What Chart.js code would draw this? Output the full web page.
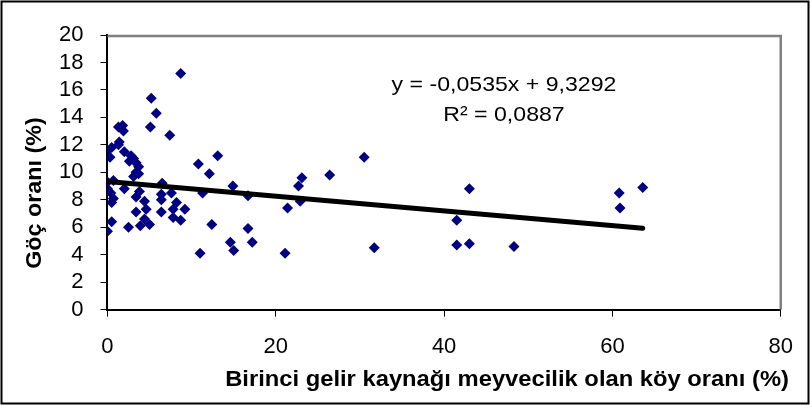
<!DOCTYPE html>
<html>
<head>
<meta charset="utf-8">
<script src="https://cdn.jsdelivr.net/npm/chart.js@4/dist/chart.umd.min.js"></script>
<style>
  html, body { margin: 0; padding: 0; background: #fff; }
  #wrap { width: 810px; height: 405px; position: relative; }
</style>
</head>
<body>
<div id="wrap"><canvas id="chart" width="810" height="405"></canvas></div>
<script>
// scatter: fruit-growing village share (x) vs migration rate (y)
const xVals = [
  8.7, 5.2, 5.8, 1.3, 1.8, 1.9, 5.1, 7.4, 1.4, 1.3,
  0.0, 0.5, 0.3, 2.0, 2.8, 3.1, 2.6, 3.4, 3.7, 3.4,
  3.7, 3.1, 0.0, 0.7, 0.0, 0.4, 0.7, 0.5, 2.0, 3.4,
  3.8, 3.4, 3.9, 2.5, 0.5, 0.0, 4.4, 4.6, 4.4, 5.0,
  6.5, 6.4, 6.4, 6.4, 7.6, 7.8, 8.2, 7.8, 8.7, 9.2,
  10.8, 11.3, 11.0, 12.1, 13.1, 12.4, 14.6, 14.9, 15.0, 16.7,
  16.7, 17.2, 21.1, 21.4, 22.7, 23.1, 22.9, 26.4, 30.5, 31.7,
  41.5, 41.5, 43.0, 43.0, 48.3, 60.8, 60.9, 63.6
];
const yVals = [
  17.2, 15.4, 14.3, 13.3, 13.4, 13.0, 13.3, 12.7, 12.2, 12.0,
  11.6, 11.8, 11.1, 11.5, 11.2, 11.0, 10.8, 10.7, 10.4, 10.0,
  9.9, 9.7, 9.3, 9.4, 8.8, 8.5, 8.1, 7.8, 8.8, 8.2,
  8.6, 7.1, 6.1, 6.0, 6.4, 5.7, 7.9, 7.3, 6.6, 6.2,
  9.2, 8.4, 8.0, 7.1, 8.5, 7.3, 7.8, 6.7, 6.5, 7.3,
  10.6, 8.5, 4.1, 9.9, 11.2, 6.2, 4.9, 9.0, 4.3, 8.3,
  5.9, 4.9, 4.1, 7.4, 9.0, 9.6, 7.9, 9.8, 11.1, 4.5,
  6.5, 4.7, 8.8, 4.8, 4.6, 8.5, 7.4, 8.9
];

// linear trend (Excel)
const slope = -0.0535;
const intercept = 9.3292;
const eqLines = ['y = -0,0535x + 9,3292', 'R² = 0,0887'];

const xTitle = 'Birinci gelir kaynağı meyvecilik olan köy oranı (%)';
const yTitle = 'Göç oranı (%)';

const FONT = "'Liberation Sans', Arial, sans-serif";

const points = xVals.map((x, i) => ({ x, y: yVals[i] }));
const xMin = Math.min(...xVals), xMax = Math.max(...xVals);
const trend = [xMin, xMax].map(x => ({ x, y: slope * x + intercept }));

function stretchText(ctx, text, x, y, font, sx, align) {
  ctx.save();
  ctx.font = font;
  ctx.fillStyle = '#000';
  ctx.textBaseline = 'middle';
  ctx.textAlign = align;
  ctx.translate(x, y);
  ctx.scale(sx, 1);
  ctx.fillText(text, 0, 0);
  ctx.restore();
}

const decor = {
  id: 'decor',
  afterDraw(chart) {
    const { ctx, chartArea: a } = chart;
    // gray plot frame on top and right
    ctx.save();
    ctx.strokeStyle = '#808080';
    ctx.lineWidth = 2.5;
    ctx.beginPath();
    ctx.moveTo(a.left, a.top + 1);
    ctx.lineTo(a.right, a.top + 1);
    ctx.lineTo(a.right, a.bottom);
    ctx.stroke();
    // outer black frame
    ctx.strokeStyle = '#000';
    ctx.lineWidth = 2;
    ctx.strokeRect(1.5, 1.5, 807, 402);
    ctx.restore();

    stretchText(ctx, eqLines[0], 504, 85, `21px ${FONT}`, 1.1, 'center');
    stretchText(ctx, eqLines[1], 504, 115, `21px ${FONT}`, 1.1, 'center');
    stretchText(ctx, xTitle, 789, 380, `bold 22px ${FONT}`, 1.08, 'right');

    ctx.save();
    ctx.translate(35, 193);
    ctx.rotate(-Math.PI / 2);
    stretchText(ctx, yTitle, 0, 0, `bold 22px ${FONT}`, 1.06, 'center');
    ctx.restore();
  }
};

new Chart(document.getElementById('chart'), {
  type: 'scatter',
  data: {
    datasets: [
      {
        type: 'line',
        data: trend,
        borderColor: '#000',
        borderWidth: 5,
        borderCapStyle: 'round',
        pointRadius: 0,
        fill: false,
        order: 0,
      },
      {
        data: points,
        pointStyle: 'rectRot',
        pointRadius: 5.5,
        pointBackgroundColor: '#000080',
        pointBorderColor: '#000080',
        pointBorderWidth: 0,
        order: 1,
      },
    ],
  },
  options: {
    responsive: false,
    animation: false,
    devicePixelRatio: 1,
    layout: { padding: { left: 42, top: 35, right: 24, bottom: 28 } },
    plugins: { legend: { display: false }, tooltip: { enabled: false } },
    scales: {
      x: {
        type: 'linear',
        min: 0, max: 80,
        ticks: { stepSize: 20, autoSkip: false, maxRotation: 0, color: '#000', padding: 17,
                 font: { family: FONT, size: 22 } },
        grid: { display: true, drawOnChartArea: false, drawTicks: true, tickLength: 7,
                color: '#000', tickColor: '#000', tickWidth: 1 },
        border: { color: '#000', width: 2 },
      },
      y: {
        min: 0, max: 20,
        ticks: { stepSize: 2, autoSkip: false, color: '#000', padding: 17,
                 font: { family: FONT, size: 22 } },
        grid: { display: true, drawOnChartArea: false, drawTicks: true, tickLength: 7,
                color: '#000', tickColor: '#000', tickWidth: 1 },
        border: { color: '#000', width: 2 },
      },
    },
  },
  plugins: [decor],
});
</script>
</body>
</html>
